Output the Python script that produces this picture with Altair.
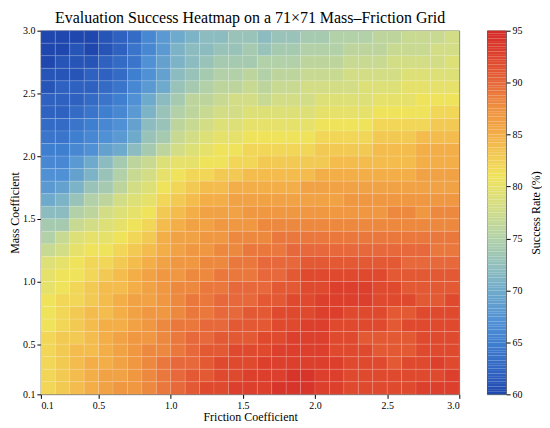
import altair as alt
import numpy as np
import pandas as pd

# ---- data (rows top -> bottom: mass 2.95 ... 0.15; columns friction 0.15 ... 2.95)
success_rows = [
    [60,60,60,60,61,62,63,66,68,70,71,72,72,73,73,72,73,73,74,74,75,75,75,76,76,77,77,77,78],
    [60,60,61,60,61,62,64,66,68,71,72,72,73,73,74,73,74,74,75,75,75,76,76,76,77,77,77,78,78],
    [60,61,61,61,62,63,64,67,69,71,72,73,74,74,74,75,75,75,76,76,76,77,77,77,78,78,78,78,79],
    [61,61,61,62,62,63,65,67,69,72,73,74,75,75,76,75,76,76,77,77,77,78,78,78,78,79,79,79,79],
    [61,62,62,62,63,64,66,68,70,73,74,75,76,76,77,76,77,77,78,78,78,78,79,79,79,80,80,80,80],
    [62,62,62,63,64,65,67,70,72,74,76,76,77,78,78,77,78,78,78,79,79,79,79,80,80,80,81,81,81],
    [62,62,63,64,65,66,68,71,73,75,76,77,78,78,79,79,79,79,79,80,80,80,80,81,81,81,81,82,82],
    [63,63,64,65,66,67,69,72,73,76,77,78,79,79,80,80,80,80,80,81,81,81,81,82,82,82,82,83,83],
    [64,64,65,66,67,68,70,73,74,77,78,79,80,80,81,81,81,81,81,82,82,82,82,83,83,83,84,84,84],
    [65,65,66,67,69,70,72,74,76,78,79,80,81,81,82,82,82,82,82,83,83,83,83,84,84,84,85,85,85],
    [66,66,68,70,72,74,76,77,79,80,80,81,81,82,82,83,83,83,83,83,84,84,84,84,84,84,85,85,85],
    [67,67,69,71,73,75,77,78,80,81,82,82,83,83,84,84,84,84,84,85,85,85,85,85,85,85,86,86,86],
    [68,69,71,73,74,76,78,79,81,82,83,84,84,85,85,85,85,85,86,86,86,86,86,86,86,86,86,86,86],
    [70,71,73,75,76,78,79,80,82,83,84,85,85,86,86,86,86,86,86,86,86,87,87,87,87,87,87,87,87],
    [72,72,75,76,78,79,80,81,83,84,85,86,86,86,87,87,87,87,87,87,87,87,87,87,88,88,87,88,88],
    [74,74,77,78,79,80,81,82,84,85,86,86,87,87,87,88,88,88,88,88,88,88,88,88,88,88,88,88,88],
    [75,77,79,80,80,81,82,83,85,86,86,87,87,88,88,88,89,89,89,89,89,89,89,89,89,89,89,89,89],
    [77,78,80,81,81,82,83,84,85,86,87,87,88,88,89,89,89,90,90,90,90,90,90,90,90,90,90,89,89],
    [79,80,81,82,82,83,84,85,86,87,87,88,88,89,89,90,90,90,91,91,91,91,91,91,91,90,90,90,90],
    [80,81,81,82,83,84,85,86,87,87,88,88,89,89,89,90,90,91,92,92,92,92,92,92,91,91,91,91,91],
    [80,81,82,83,84,84,85,86,87,88,88,89,89,90,90,90,91,91,92,92,93,93,93,92,92,91,91,91,91],
    [81,82,82,83,84,85,86,86,87,88,89,89,90,90,90,91,91,92,92,93,93,93,93,92,92,92,91,91,92],
    [81,82,83,84,84,85,86,87,87,88,89,89,90,90,91,91,92,92,92,93,93,92,92,92,91,91,92,92,92],
    [81,82,83,84,85,85,86,87,88,89,89,90,90,91,91,91,92,92,93,93,92,92,92,92,91,92,92,92,92],
    [82,83,83,84,85,86,87,87,88,89,90,90,91,91,91,92,92,93,93,93,92,92,91,91,91,91,92,92,92],
    [82,83,84,84,85,86,87,88,88,89,90,91,91,92,92,92,93,93,93,93,92,92,92,91,91,91,92,92,92],
    [82,83,84,85,85,86,87,88,89,90,90,91,92,92,92,93,93,93,93,93,93,92,92,92,91,92,92,93,92],
    [82,83,84,85,86,86,87,88,89,90,91,91,92,92,93,93,93,94,94,93,93,92,92,92,92,92,92,92,93],
    [82,83,84,85,86,87,87,88,89,90,91,92,92,93,93,93,94,94,94,93,93,92,92,92,92,92,93,93,93],
]

axis_ticks = [0.1, 0.5, 1.0, 1.5, 2.0, 2.5, 3.0]
cbar_ticks = [60, 65, 70, 75, 80, 85, 90, 95]
color_stops = [60, 62, 65, 67, 70, 72, 75, 78, 81, 82.5, 85, 87.5, 90, 92, 95]
color_hex = ["#1f47ae", "#2f62c0", "#3f7fd0", "#5090d5", "#6eaacb", "#8cbcc0",
             "#b2d1a8", "#d3dd85", "#f0e35c", "#f2d055", "#f3ae48", "#ef9140",
             "#e7683a", "#df4a2e", "#d52a28"]

FONT = "Liberation Serif"

n = len(success_rows)
edges = np.linspace(0.1, 3.0, n + 1)
recs = []
for i, row in enumerate(success_rows):
    k = n - 1 - i
    for j, v in enumerate(row):
        recs.append({"f0": edges[j], "f1": edges[j + 1],
                     "m0": edges[k], "m1": edges[k + 1], "rate": v})
df = pd.DataFrame(recs)

color_scale = alt.Scale(domain=color_stops, range=color_hex, interpolate="rgb")

heat = alt.Chart(df, title=alt.TitleParams(
    "Evaluation Success Heatmap on a 71×71 Mass–Friction Grid",
    font=FONT, fontSize=16, fontWeight="normal", anchor="middle", offset=0, color="black"
)).mark_rect(stroke="white", strokeWidth=0.4, strokeOpacity=0.3).encode(
    x=alt.X("f0:Q", scale=alt.Scale(domain=[0.1, 3.0], nice=False, zero=False),
            axis=alt.Axis(values=axis_ticks, format=".1f", title="Friction Coefficient",
                          titlePadding=1)),
    x2="f1:Q",
    y=alt.Y("m0:Q", scale=alt.Scale(domain=[0.1, 3.0], nice=False, zero=False),
            axis=alt.Axis(values=axis_ticks, format=".1f", title="Mass Coefficient",
                          titlePadding=1)),
    y2="m1:Q",
    color=alt.Color("rate:Q", scale=color_scale, legend=None),
).properties(width=420, height=365)

levels = np.arange(60, 95, 0.25)
cb_df = pd.DataFrame({"lo": levels, "hi": levels + 0.25, "mid": levels + 0.125,
                      "a": 0, "b": 1})
cbar = alt.Chart(cb_df).mark_rect().encode(
    x=alt.X("a:Q", scale=alt.Scale(domain=[0, 1]), axis=None),
    x2="b:Q",
    y=alt.Y("lo:Q", scale=alt.Scale(domain=[60, 95], nice=False, zero=False),
            axis=alt.Axis(orient="right", values=cbar_ticks, title="Success Rate (%)",
                          titleAngle=270, titlePadding=8, titleBaseline="top")),
    y2="hi:Q",
    color=alt.Color("mid:Q", scale=color_scale, legend=None),
).properties(width=19, height=365)

chart = alt.hconcat(heat, cbar, spacing=26).properties(
    padding={"left": 0, "top": 0, "right": 0, "bottom": 0}
).configure_view(stroke="#333333", strokeWidth=0.8).configure_axis(
    labelFont=FONT, titleFont=FONT, labelFontSize=10, titleFontSize=12,
    titleFontWeight="normal", labelColor="black", titleColor="black",
    tickColor="black", tickSize=4, labelPadding=2, grid=False, domain=False,
).configure_concat(spacing=26)

chart.save("out.html", embed_options={"renderer": "svg", "actions": False})
